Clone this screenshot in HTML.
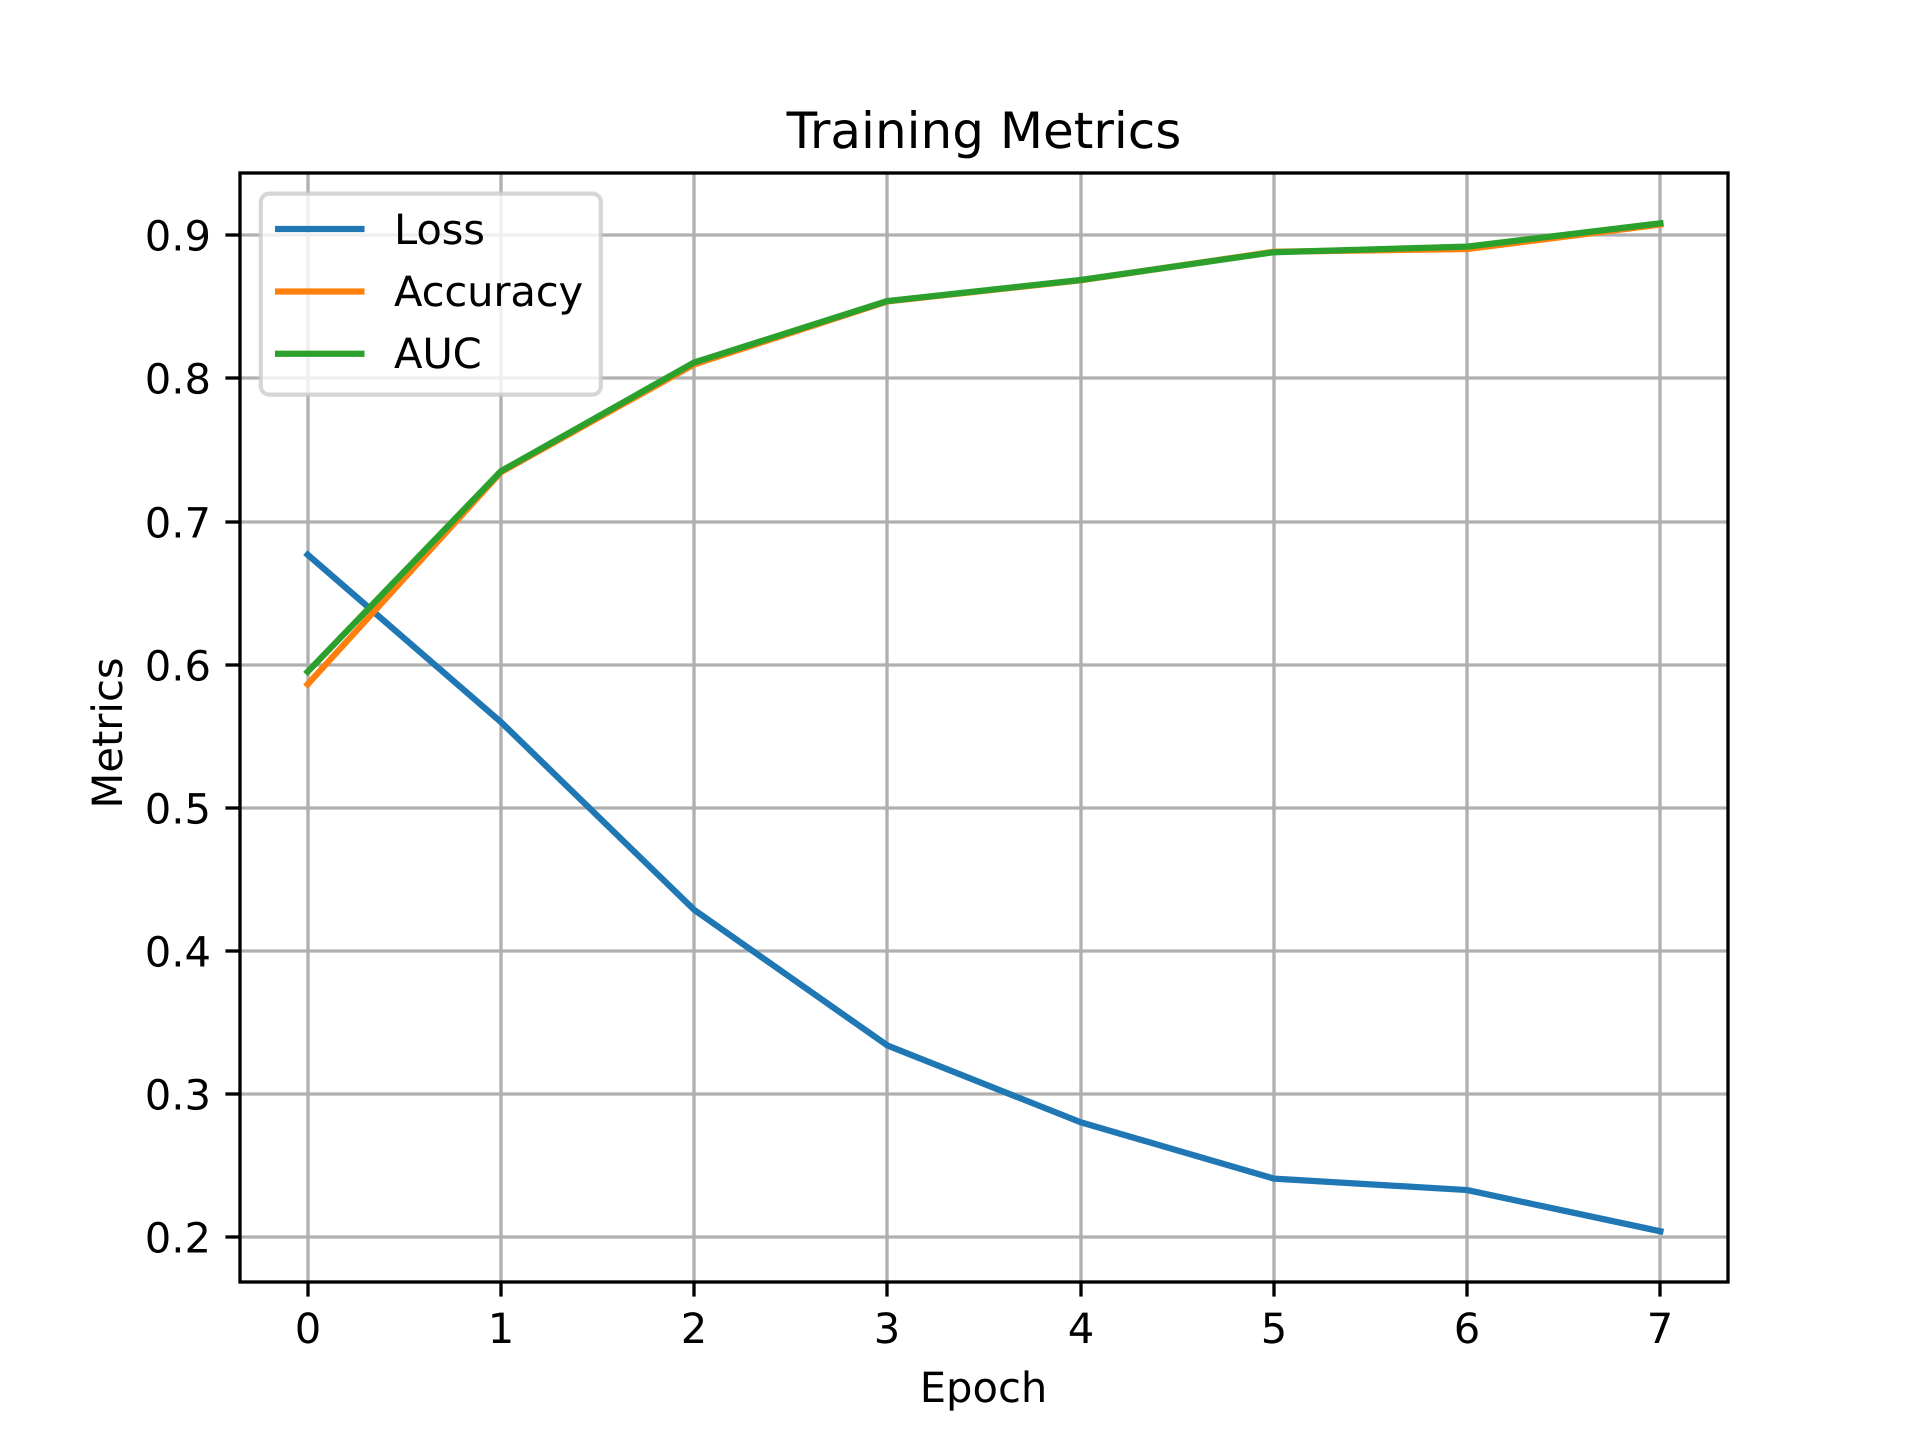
<!DOCTYPE html>
<html lang="en">
<head>
<meta charset="utf-8">
<title>Training Metrics</title>
<style>
html,body{margin:0;padding:0;background:#fff;width:1920px;height:1440px;overflow:hidden}
svg{display:block}
text{font-family:"DejaVu Sans","Liberation Sans",sans-serif;fill:#000;text-rendering:geometricPrecision}
</style>
</head>
<body>
<svg id="chart" xmlns="http://www.w3.org/2000/svg" width="1920" height="1440" viewBox="0 0 1920 1440">
  <rect x="0" y="0" width="1920" height="1440" fill="#fff"/>
  <g id="grid"></g>
  <g id="series"></g>
  <g id="ticks"></g>
  <rect x="240" y="173" width="1488" height="1109" fill="none" stroke="#000" stroke-width="3.33"/>
  <text x="984" y="148" font-size="50" text-anchor="middle">Training Metrics</text>
  <text x="983.5" y="1402" font-size="41.67" text-anchor="middle">Epoch</text>
  <text transform="translate(122 733) rotate(-90)" x="0" y="0" font-size="41.67" text-anchor="middle">Metrics</text>
  <g>
    <rect x="260.83" y="193.63" width="340" height="201" rx="8.33" ry="8.33" fill="#fff" fill-opacity="0.8" stroke="#ccc" stroke-opacity="0.8" stroke-width="4.17"/>
    <g>
      <line x1="278.1" y1="229" x2="361.4" y2="229" stroke="#1f77b4" stroke-width="6.25" stroke-linecap="square"/>
      <text x="394" y="244" font-size="41.67" letter-spacing="-0.15">Loss</text>
    </g>
    <g>
      <line x1="278.1" y1="291.5" x2="361.4" y2="291.5" stroke="#ff7f0e" stroke-width="6.25" stroke-linecap="square"/>
      <text x="394" y="306" font-size="41.67" letter-spacing="-0.15">Accuracy</text>
    </g>
    <g>
      <line x1="278.1" y1="353.7" x2="361.4" y2="353.7" stroke="#2ca02c" stroke-width="6.25" stroke-linecap="square"/>
      <text x="394" y="368" font-size="41.67" letter-spacing="-0.15">AUC</text>
    </g>
  </g>
</svg>
<script>
const epochs = [0, 1, 2, 3, 4, 5, 6, 7];
const lossValues = [0.6769, 0.5600, 0.4288, 0.3340, 0.2804, 0.2410, 0.2330, 0.2042];
const accuracyValues = [0.5863, 0.7345, 0.8098, 0.8538, 0.8686, 0.8885, 0.8904, 0.9075];
const aucValues = [0.5951, 0.7352, 0.8112, 0.8541, 0.8688, 0.8882, 0.8921, 0.9084];
const xTickValues = [0, 1, 2, 3, 4, 5, 6, 7];
const xTickLabels = ['0', '1', '2', '3', '4', '5', '6', '7'];
const yTickValues = [0.2, 0.3, 0.4, 0.5, 0.6, 0.7, 0.8, 0.9];
const yTickLabels = ['0.2', '0.3', '0.4', '0.5', '0.6', '0.7', '0.8', '0.9'];

const SVG_NS = 'http://www.w3.org/2000/svg';
const plotLeft = 240;
const plotRight = 1728;
const plotTop = 173;
const plotBottom = 1282;

function xScale(v) {
  return 307.64 + v * 193.25;
}
function yScale(v) {
  return 1237.3 - (v - 0.2) * 1431.4;
}
function lineEl(parent, x1, y1, x2, y2, stroke, width) {
  const el = document.createElementNS(SVG_NS, 'line');
  el.setAttribute('x1', x1);
  el.setAttribute('y1', y1);
  el.setAttribute('x2', x2);
  el.setAttribute('y2', y2);
  el.setAttribute('stroke', stroke);
  el.setAttribute('stroke-width', width);
  parent.appendChild(el);
  return el;
}
function textEl(parent, x, y, anchor, content) {
  const el = document.createElementNS(SVG_NS, 'text');
  el.setAttribute('x', x);
  el.setAttribute('y', y);
  el.setAttribute('font-size', '41.67');
  el.setAttribute('text-anchor', anchor);
  el.textContent = content;
  parent.appendChild(el);
  return el;
}

const gridGroup = document.getElementById('grid');
const ticksGroup = document.getElementById('ticks');
const seriesGroup = document.getElementById('series');

xTickValues.forEach(function (v, i) {
  const x = Math.round(xScale(v));
  const gridLine = lineEl(gridGroup, x, plotTop, x, plotBottom, '#b0b0b0', 3.33);
  
  
  const tick = lineEl(ticksGroup, x, plotBottom, x, plotBottom + 14.58, '#000', 3.33);
  
  
  const label = textEl(ticksGroup, x, 1343, 'middle', xTickLabels[i]);
  
  
});

yTickValues.forEach(function (v, i) {
  const y = Math.round(yScale(v));
  const gridLine = lineEl(gridGroup, plotLeft, y, plotRight, y, '#b0b0b0', 3.33);
  
  
  const tick = lineEl(ticksGroup, plotLeft - 14.58, y, plotLeft, y, '#000', 3.33);
  
  
  const label = textEl(ticksGroup, 211, y + 15.5, 'end', yTickLabels[i]);
  
  
});

function drawSeries(values, color) {
  const points = values.map(function (v, i) {
    return xScale(epochs[i]).toFixed(2) + ',' + yScale(v).toFixed(2);
  }).join(' ');
  const el = document.createElementNS(SVG_NS, 'polyline');
  el.setAttribute('points', points);
  el.setAttribute('fill', 'none');
  el.setAttribute('stroke', color);
  el.setAttribute('stroke-width', '6.25');
  el.setAttribute('stroke-linecap', 'square');
  el.setAttribute('stroke-linejoin', 'round');
  seriesGroup.appendChild(el);
  return el;
}

const lossLine = drawSeries(lossValues, '#1f77b4');


const accuracyLine = drawSeries(accuracyValues, '#ff7f0e');


const aucLine = drawSeries(aucValues, '#2ca02c');


</script>
</body>
</html>
